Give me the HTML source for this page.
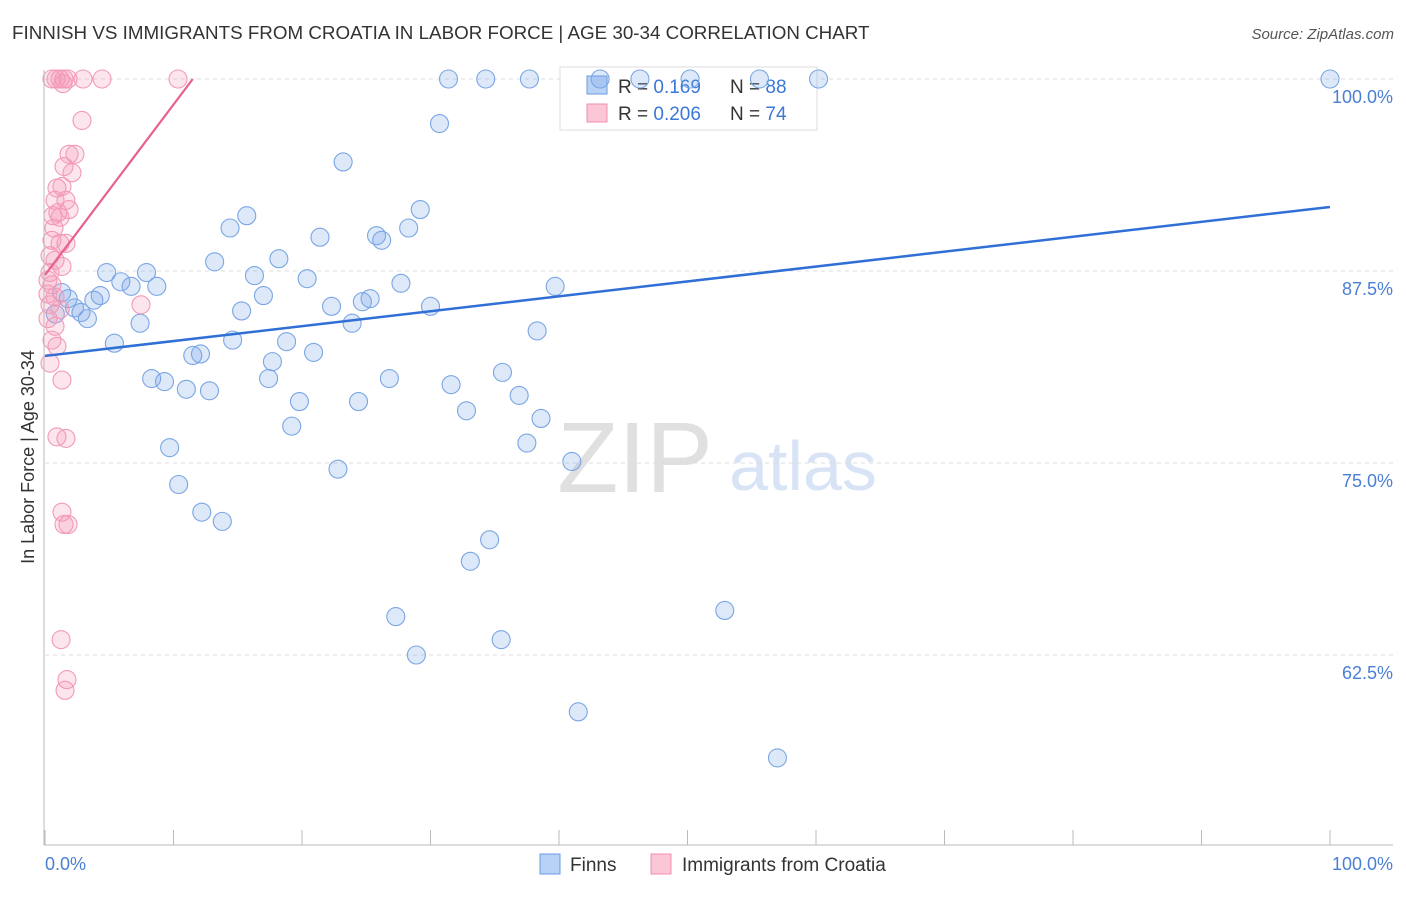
<!DOCTYPE html>
<html><head><meta charset="utf-8"><style>
body{margin:0;background:#fff;font-family:"Liberation Sans",sans-serif}
svg text{font-family:"Liberation Sans",sans-serif}
</style></head><body>
<svg id="c" width="1406" height="892">
<text x="12" y="39" font-size="18.8" fill="#333">FINNISH VS IMMIGRANTS FROM CROATIA IN LABOR FORCE | AGE 30-34 CORRELATION CHART</text>
<text x="1394" y="39" font-size="15" fill="#555" font-style="italic" text-anchor="end">Source: ZipAtlas.com</text>
<text x="34" y="457" font-size="18" fill="#333" text-anchor="middle" transform="rotate(-90 34 457)">In Labor Force | Age 30-34</text>
<text x="635" y="492" font-size="100" fill="#e0e0e0" font-family="Liberation Serif" text-anchor="middle">ZIP</text>
<text x="803" y="490" font-size="70" fill="#d8e4f5" text-anchor="middle">atlas</text>
<g id="grid"></g>
<g>
<rect x="560" y="67" width="257" height="63" fill="#fff" stroke="#ddd"/>
<rect x="587" y="76" width="20" height="18" fill="#b8d2f5" stroke="#6a9be0"/>
<rect x="587" y="104" width="20" height="18" fill="#fbc6d6" stroke="#f08cb0"/>
<text x="618" y="93" font-size="19" fill="#333">R = <tspan fill="#3a78d8">0.169</tspan></text>
<text x="730" y="93" font-size="19" fill="#333">N = <tspan fill="#3a78d8">88</tspan></text>
<text x="618" y="120" font-size="19" fill="#333">R = <tspan fill="#3a78d8">0.206</tspan></text>
<text x="730" y="120" font-size="19" fill="#333">N = <tspan fill="#3a78d8">74</tspan></text>
</g>
<g id="pts"></g><g id="lines"></g>
<line x1="44" y1="70" x2="44" y2="845" stroke="#bbb"/>
<line x1="44" y1="845" x2="1393" y2="845" stroke="#bbb"/>
<text x="45" y="870" font-size="18" fill="#4a7fd4">0.0%</text>
<text x="1393" y="870" font-size="18" fill="#4a7fd4" text-anchor="end">100.0%</text>
<g>
<rect x="540" y="854" width="20" height="20" fill="#b8d2f5" stroke="#6a9be0"/>
<text x="570" y="871" font-size="19" fill="#333">Finns</text>
<rect x="651" y="854" width="20" height="20" fill="#fbc6d6" stroke="#f08cb0"/>
<text x="682" y="871" font-size="19" fill="#333">Immigrants from Croatia</text>
</g>
</svg>
<script>
const yTicks=[100,87.5,75,62.5];
const yTickLabels=["100.0%","87.5%","75.0%","62.5%"];
const xTickValues=[0,10,20,30,40,50,60,70,80,90,100];
const finnsX=[31.4,34.3,37.7,43.2,46.3,50.2,55.6,60.2,100,30.7,23.2,29.2,15.7,14.4,28.3,21.4,25.8,26.2,13.2,18.2,4.8,7.9,16.3,20.4,5.9,6.7,8.7,27.7,39.7,1.3,1.8,4.3,3.8,17.0,25.3,24.7,2.3,2.8,3.3,22.3,15.3,30.0,7.4,23.9,38.3,0.8,5.4,14.6,18.8,11.5,12.1,20.9,17.7,8.3,9.3,17.4,26.8,31.6,35.6,11.0,12.8,19.8,24.4,36.9,32.8,38.6,19.2,37.5,9.7,41.0,22.8,10.4,12.2,13.8,34.6,33.1,27.3,52.9,35.5,28.9,41.5,57.0];
const finnsY=[100,100,100,100,100,100,100,100,100,97.1,94.6,91.5,91.1,90.3,90.3,89.7,89.8,89.5,88.1,88.3,87.4,87.4,87.2,87.0,86.8,86.5,86.5,86.7,86.5,86.1,85.7,85.9,85.6,85.9,85.7,85.5,85.1,84.8,84.4,85.2,84.9,85.2,84.1,84.1,83.6,84.7,82.8,83.0,82.9,82.0,82.1,82.2,81.6,80.5,80.3,80.5,80.5,80.1,80.9,79.8,79.7,79.0,79.0,79.4,78.4,77.9,77.4,76.3,76.0,75.1,74.6,73.6,71.8,71.2,70.0,68.6,65.0,65.4,63.5,62.5,58.8,55.8];
const croX=[0.54,0.86,1.17,1.48,1.79,1.4,2.96,4.44,10.35,2.88,1.87,2.33,1.48,2.1,0.93,1.32,0.78,1.63,1.0,1.87,0.62,1.17,0.7,0.54,1.17,1.63,0.39,0.78,1.32,0.39,0.23,0.54,0.23,0.78,0.39,1.17,0.23,0.78,7.47,0.54,0.93,0.39,1.32,0.93,1.63,1.32,1.48,1.79,1.25,1.71,1.56];
const croY=[100,100,100,100,100,99.7,100,100,100,97.3,95.1,95.1,94.3,93.9,92.9,93.0,92.1,92.1,91.3,91.5,91.1,91.0,90.3,89.5,89.3,89.3,88.5,88.2,87.8,87.4,86.9,86.6,86.0,85.8,85.3,85.0,84.4,83.9,85.3,83.0,82.6,81.5,80.4,76.7,76.6,71.8,71.0,71.0,63.5,60.9,60.2];
const finnsTrend=[81.97,91.67];
const croTrend=[87.24,100,11.5];
const X=v=>45+v*12.85, Y=v=>79+(100-v)*15.36;
const NS="http://www.w3.org/2000/svg";
function mk(t,a,p){const e=document.createElementNS(NS,t);for(const k in a)e.setAttribute(k,a[k]);p.appendChild(e);return e;}
const grid=document.getElementById('grid'),pts=document.getElementById('pts'),lines=document.getElementById('lines'),svg=document.getElementById('c');
yTicks.forEach((t,i)=>{
 const l=mk('line',{x1:45,x2:1393,y1:Y(t),y2:Y(t),stroke:'#ddd','stroke-dasharray':'4,4'},grid);
 
 
 const tx=mk('text',{x:1393,y:Y(t)+24,'font-size':18,fill:'#4a7fd4','text-anchor':'end'},svg);
 tx.textContent=yTickLabels[i];
 
 
});
xTickValues.forEach(v=>{
 const l=mk('line',{x1:X(v),x2:X(v),y1:830,y2:845,stroke:'#bbb'},grid);
 
 
});
finnsX.forEach((x,i)=>{
 const c=mk('circle',{cx:X(x),cy:Y(finnsY[i]),r:9,fill:'rgba(120,165,230,0.25)',stroke:'#7aa6e4','stroke-width':1.1},pts);
 
 
});
croX.forEach((x,i)=>{
 const c=mk('circle',{cx:X(x),cy:Y(croY[i]),r:9,fill:'rgba(245,150,180,0.25)',stroke:'#f29ab8','stroke-width':1.1},pts);
 
 
});
const bl=mk('line',{x1:X(0),y1:Y(finnsTrend[0]),x2:X(100),y2:Y(finnsTrend[1]),stroke:'#2f6fd6','stroke-width':2.5},lines);


const pl=mk('line',{x1:X(0),y1:Y(croTrend[0]),x2:X(croTrend[2]),y2:Y(croTrend[1]),stroke:'#e8608e','stroke-width':2.2},lines);


</script>
</body></html>
